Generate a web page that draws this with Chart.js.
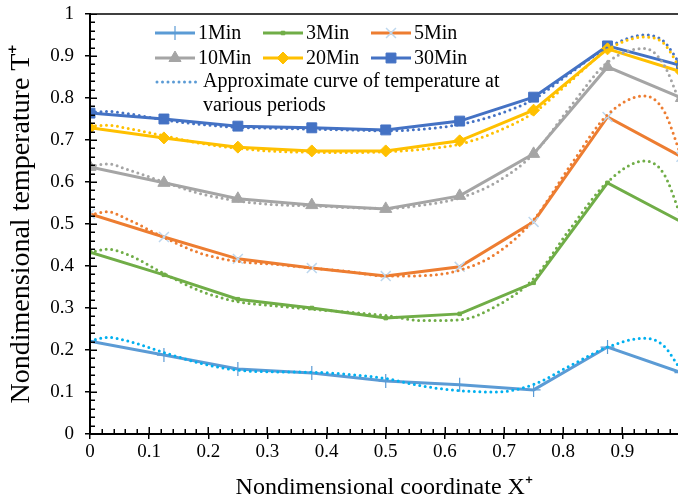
<!DOCTYPE html>
<html lang="en">
<head>
<meta charset="UTF-8">
<title>Nondimensional temperature</title>
<style>
  html, body { margin: 0; padding: 0; background: #fff; overflow: hidden; }
  #wrap { position: relative; width: 678px; height: 504px; overflow: hidden; }
  #wrap canvas { position: absolute; left: 0; top: 0; }
  .axis { position: absolute; background: #000; pointer-events: none; }
</style>
<script src="https://cdn.jsdelivr.net/npm/chart.js"></script>
</head>
<body>
<div id="wrap"><canvas id="chart" width="687" height="504"></canvas></div>
<script>
// measured points along X+
const xPoints = [0, 0.125, 0.25, 0.375, 0.5, 0.625, 0.75, 0.875, 1.0];
const t1 = [0.221, 0.188, 0.155, 0.145, 0.126, 0.117, 0.105, 0.207, 0.146];
const t3 = [0.433, 0.379, 0.321, 0.300, 0.276, 0.286, 0.360, 0.598, 0.505];
const t5 = [0.524, 0.469, 0.417, 0.395, 0.376, 0.398, 0.505, 0.755, 0.660];
const t10 = [0.636, 0.598, 0.560, 0.545, 0.536, 0.567, 0.667, 0.874, 0.800];
const t20 = [0.729, 0.705, 0.683, 0.674, 0.674, 0.698, 0.771, 0.917, 0.862];
const t30 = [0.764, 0.750, 0.733, 0.729, 0.724, 0.745, 0.802, 0.924, 0.877];

// approximate (fitted) curves
const xFit = [0, 0.03, 0.0625, 0.125, 0.1875, 0.25, 0.3125, 0.375, 0.4375, 0.5, 0.5625, 0.625, 0.6875, 0.75, 0.8125, 0.875, 0.9375, 0.97, 1.0];
const fit1 = [0.222, 0.230, 0.222, 0.194, 0.168, 0.152, 0.148, 0.147, 0.142, 0.132, 0.114, 0.103, 0.100, 0.118, 0.163, 0.207, 0.228, 0.210, 0.150];
const fit3 = [0.432, 0.440, 0.428, 0.382, 0.340, 0.315, 0.305, 0.297, 0.290, 0.282, 0.270, 0.272, 0.305, 0.370, 0.490, 0.600, 0.650, 0.620, 0.515];
const fit5 = [0.522, 0.529, 0.512, 0.468, 0.430, 0.411, 0.404, 0.395, 0.387, 0.376, 0.377, 0.390, 0.430, 0.510, 0.640, 0.760, 0.805, 0.770, 0.660];
const fit10 = [0.637, 0.643, 0.630, 0.600, 0.572, 0.555, 0.546, 0.543, 0.539, 0.537, 0.545, 0.562, 0.600, 0.667, 0.780, 0.885, 0.918, 0.880, 0.780];
const fit20 = [0.733, 0.735, 0.728, 0.710, 0.692, 0.680, 0.673, 0.671, 0.670, 0.672, 0.678, 0.690, 0.720, 0.765, 0.840, 0.915, 0.945, 0.930, 0.865];
const fit30 = [0.766, 0.768, 0.763, 0.748, 0.737, 0.730, 0.728, 0.726, 0.724, 0.722, 0.726, 0.737, 0.760, 0.797, 0.860, 0.920, 0.950, 0.935, 0.875];

const fitLabel = ['Approximate curve of temperature at', 'various periods'];

const FONT = '"Liberation Serif", "Times New Roman", serif';

function pts(xs, ys) {
  return xs.map((x, i) => ({ x: x, y: ys[i] }));
}

function solid(label, data, color, style, radius, markColor, markWidth) {
  return {
    label: label,
    data: pts(xPoints, data),
    borderColor: color,
    backgroundColor: markColor || color,
    pointBorderColor: markColor || color,
    pointBackgroundColor: markColor || color,
    pointStyle: style,
    pointRadius: radius,
    pointBorderWidth: markWidth || 1,
    borderWidth: 3,
    tension: 0
  };
}

function dotted(data, color) {
  return {
    label: 'fit',
    data: pts(xFit, data),
    borderColor: color,
    borderWidth: 3,
    borderDash: [0, 5.5],
    borderCapStyle: 'round',
    pointRadius: 0,
    cubicInterpolationMode: 'monotone'
  };
}

const datasets = [
  dotted(fit1, '#00B0F0'),
  dotted(fit3, '#70AD47'),
  dotted(fit5, '#ED7D31'),
  dotted(fit10, '#A5A5A5'),
  dotted(fit20, '#FFC000'),
  dotted(fit30, '#4472C4'),
  solid('1Min', t1, '#5B9BD5', 'cross', 7, '#5B9BD5', 1.2),
  solid('3Min', t3, '#70AD47', 'rect', 2.5),
  solid('5Min', t5, '#ED7D31', 'crossRot', 7, '#BDD7EE', 1.5),
  solid('10Min', t10, '#A5A5A5', 'triangle', 7),
  solid('20Min', t20, '#FFC000', 'rectRot', 6),
  solid('30Min', t30, '#4472C4', 'rect', 7)
];

// minor ticks (inside) and the top frame line, drawn on the canvas
const minorTicks = {
  id: 'minorTicks',
  afterDraw(chart) {
    const ctx = chart.ctx;
    const x = chart.scales.x;
    const y = chart.scales.y;
    const left = x.getPixelForValue(0);
    const bottom = y.getPixelForValue(0);
    const top = y.getPixelForValue(1);
    ctx.save();
    ctx.setLineDash([]);
    ctx.lineCap = 'butt';
    ctx.strokeStyle = '#000';
    ctx.lineWidth = 1.5;
    ctx.beginPath();
    ctx.moveTo(left, top);
    ctx.lineTo(x.right, top);
    for (let i = 0; i <= 50; i++) {
      const v = i * 0.02;
      const len = i % 5 === 0 ? 7 : 5;
      const py = Math.round(y.getPixelForValue(v)) + 0.25;
      ctx.moveTo(left, py);
      ctx.lineTo(left + len, py);
      if (v <= x.max) {
        const px = Math.round(x.getPixelForValue(v)) + 0.25;
        ctx.moveTo(px, bottom);
        ctx.lineTo(px, bottom - len);
      }
    }
    ctx.stroke();
    ctx.restore();
  }
};

// legend drawn inside the plot, 3 columns + the dotted entry
const legendCols = [155, 263, 371];
const legendRows = [33, 58];
const customLegend = {
  id: 'customLegend',
  afterDraw(chart) {
    const ctx = chart.ctx;
    const sets = chart.data.datasets.filter(d => d.label !== 'fit');
    ctx.save();
    ctx.setLineDash([]);
    ctx.font = '20px ' + FONT;
    ctx.textBaseline = 'middle';
    sets.forEach((d, i) => {
      const x0 = legendCols[i % 3];
      const yy = legendRows[Math.floor(i / 3)];
      ctx.strokeStyle = d.borderColor;
      ctx.lineWidth = 3;
      ctx.beginPath();
      ctx.moveTo(x0, yy);
      ctx.lineTo(x0 + 40, yy);
      ctx.stroke();
      if (Chart.helpers && Chart.helpers.drawPoint) {
        ctx.fillStyle = d.pointBackgroundColor;
        ctx.strokeStyle = d.pointBorderColor;
        ctx.lineWidth = d.pointBorderWidth;
        Chart.helpers.drawPoint(ctx, { pointStyle: d.pointStyle, radius: d.pointRadius, borderWidth: d.pointBorderWidth, rotation: 0 }, x0 + 20, yy);
      }
      ctx.fillStyle = '#000';
      ctx.fillText(d.label, x0 + 43, yy + 1);
    });
    const yd = 82;
    ctx.strokeStyle = '#5B9BD5';
    ctx.lineWidth = 3;
    ctx.lineCap = 'round';
    ctx.setLineDash([0, 5.5]);
    ctx.beginPath();
    ctx.moveTo(157, yd);
    ctx.lineTo(199, yd);
    ctx.stroke();
    ctx.setLineDash([]);
    ctx.fillStyle = '#000';
    ctx.fillText(fitLabel[0], 203, yd);
    ctx.fillText(fitLabel[1], 203, yd + 24);
    ctx.restore();
  }
};

const tickText = v => String(Math.round(v * 10) / 10);

// major tick marks come from the scales' own grid ticks
const axisGrid = {
  display: true,
  drawOnChartArea: false,
  drawTicks: true,
  tickLength: 5,
  tickColor: '#000',
  tickWidth: 1.5,
  color: '#000',
  lineWidth: 1.5
};

const chart = new Chart(document.getElementById('chart'), {
  type: 'line',
  data: { datasets: datasets },
  options: {
    responsive: false,
    animation: false,
    layout: { padding: { top: 14, right: 0, bottom: 0, left: 0 } },
    plugins: { legend: { display: false }, tooltip: { enabled: false } },
    scales: {
      x: {
        type: 'linear',
        min: 0,
        max: 0.995,
        afterFit: s => { s.height = 70; },
        ticks: { stepSize: 0.1, includeBounds: false, padding: 2, color: '#000', font: { family: FONT, size: 19 }, maxRotation: 0, callback: tickText },
        grid: axisGrid,
        border: { display: true, color: '#000', width: 2 },
        title: { display: true, text: 'Nondimensional coordinate X\u207A', color: '#000', font: { family: FONT, size: 24 }, padding: { top: 0, bottom: 2 } }
      },
      y: {
        min: 0,
        max: 1,
        afterFit: s => { s.width = 90; s.paddingTop = 0; s.paddingBottom = 0; },
        ticks: { stepSize: 0.1, padding: 11, color: '#000', font: { family: FONT, size: 19 }, callback: tickText },
        grid: axisGrid,
        border: { display: true, color: '#000', width: 2 },
        title: { display: true, text: 'Nondimensional temperature T\u207A', color: '#000', font: { family: FONT, size: 28 }, padding: { top: 5, bottom: 0 } }
      }
    }
  },
  plugins: [minorTicks, customLegend]
});

// axis frame as overlay bars, positioned from the chart's scales
function axisFrame(chart) {
  const wrap = document.getElementById('wrap');
  const x = chart.scales.x;
  const y = chart.scales.y;
  const left = x.getPixelForValue(0);
  const right = Math.min(x.right, 678);
  const bottom = y.getPixelForValue(0);
  const top = y.getPixelForValue(1);
  const bar = (l, t, w, h) => {
    const d = document.createElement('div');
    d.className = 'axis';
    d.style.left = l + 'px';
    d.style.top = t + 'px';
    d.style.width = w + 'px';
    d.style.height = h + 'px';
    wrap.appendChild(d);
  };
  bar(left - 1, top - 1, 2, bottom - top + 2);
  bar(left - 1, bottom - 1, right - left + 1, 2);
}
axisFrame(chart);
</script>
</body>
</html>
